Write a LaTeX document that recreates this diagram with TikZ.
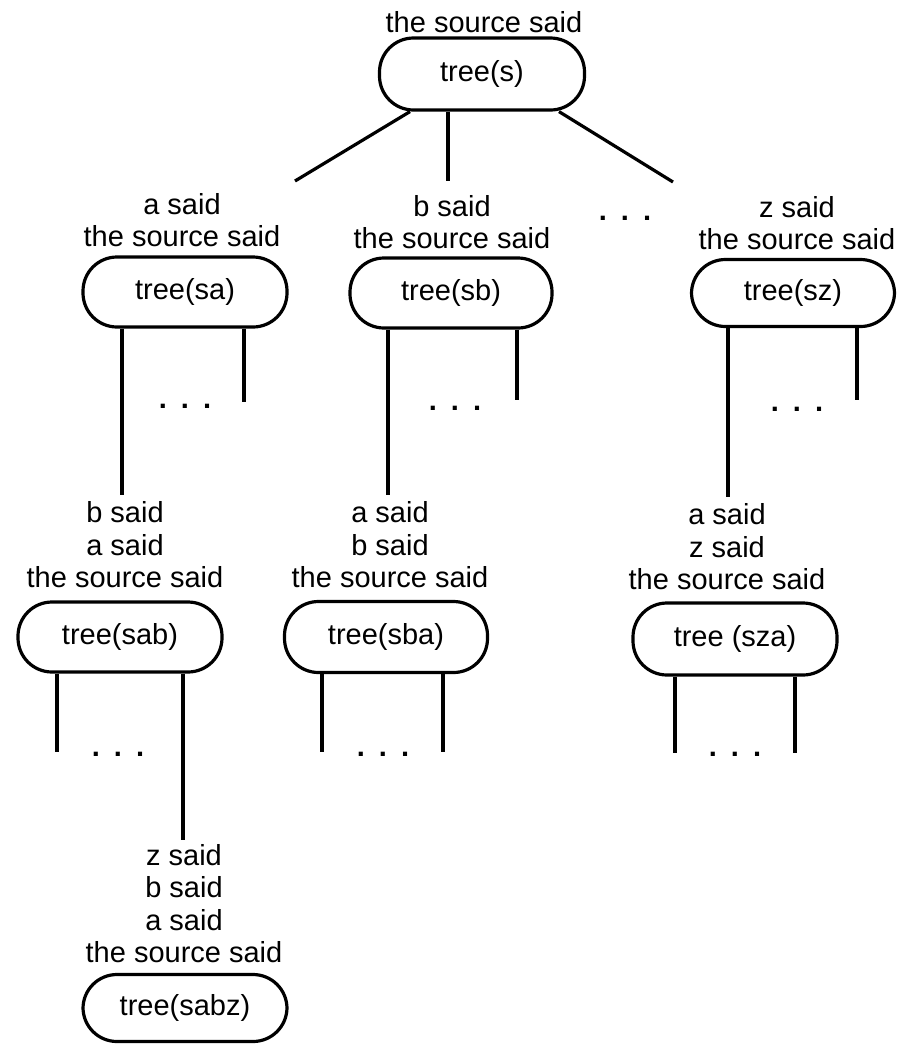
\documentclass[tikz,border=0pt]{standalone}
\usepackage{fontspec}
\setmainfont{Liberation Sans}
\newcommand\lblfont{\fontsize{29}{32.5}\selectfont}
\begin{document}
\begin{tikzpicture}[x=1pt,y=-1pt,
  treebox/.style={draw, line width=3.2pt, rounded corners=34pt,
    minimum width=204pt, minimum height=70pt, inner sep=0pt, font=\lblfont},
  lab/.style={anchor=south, inner sep=0pt, align=center, font=\lblfont},
  etc/.style={anchor=base, inner sep=0pt, font=\lblfont\bfseries},
  conn/.style={line width=3.2pt}]
\useasboundingbox (0,0) rectangle (910,1045);

% nodes
\node[treebox, minimum width=205pt, minimum height=72pt] (s) at (482,74) {tree(s)};
\node[lab] (ls) at (484,33) {the source said};

\node[treebox] (sa) at (185,292) {tree(sa)};
\node[lab] (lsa) at (182,247) {a said\\the source said};

\node[treebox, minimum width=202pt] (sb) at (451,293) {tree(sb)};
\node[lab] (lsb) at (452,249) {b said\\the source said};

\node[etc] (dtop) at (625,220.5) {.\hspace{14pt}.\hspace{14pt}.};

\node[treebox, minimum width=203pt, minimum height=67pt] (sz) at (793,293) {tree(sz)};
\node[lab] (lsz) at (797,250) {z said\\the source said};

\node[treebox] (sab) at (120,637) {tree(sab)};
\node[lab] (lsab) at (125,588) {b said\\a said\\the source said};

\node[treebox, minimum width=203pt, minimum height=71pt] (sba) at (386,637) {tree(sba)};
\node[lab] (lsba) at (390,588) {a said\\b said\\the source said};

\node[treebox, minimum height=72pt] (sza) at (735,639) {tree (sza)};
\node[lab] (lsza) at (727,590) {a said\\z said\\the source said};

\node[treebox, minimum height=67pt] (sabz) at (185,1008) {tree(sabz)};
\node[lab] (lsabz) at (184,963) {z said\\b said\\a said\\the source said};

% ellipses under nodes
\node[etc] (dsa) at (185,408) {.\hspace{14pt}.\hspace{14pt}.};
\node[etc] (dsb) at (455,410) {.\hspace{14pt}.\hspace{14pt}.};
\node[etc] (dsz) at (797,411) {.\hspace{14pt}.\hspace{14pt}.};
\node[etc] (dsab) at (118,756) {.\hspace{14pt}.\hspace{14pt}.};
\node[etc] (dsba) at (383,756) {.\hspace{14pt}.\hspace{14pt}.};
\node[etc] (dsza) at (735,756) {.\hspace{14pt}.\hspace{14pt}.};

% free ends
\coordinate (es1) at (295,181);
\coordinate (es2) at (448,181);
\coordinate (es3) at (673,182);
\coordinate (ea1) at (122,495);
\coordinate (ea2) at (244,402);
\coordinate (eb1) at (388,495);
\coordinate (eb2) at (517,400);
\coordinate (ez1) at (728,497);
\coordinate (ez2) at (857,400);
\coordinate (eab1) at (57,752);
\coordinate (eab2) at (183,840);
\coordinate (eba1) at (322,752);
\coordinate (eba2) at (443,752);
\coordinate (eza1) at (675,753);
\coordinate (eza2) at (795,753);

% connectors
\draw[conn] ([xshift=-72pt]s.south) -- (es1);
\draw[conn] (es2 |- s.south) -- (es2);
\draw[conn] ([xshift=77pt]s.south) -- (es3);
\draw[conn] (ea1 |- sa.south) -- (ea1);
\draw[conn] (ea2 |- sa.south) -- (ea2);
\draw[conn] (eb1 |- sb.south) -- (eb1);
\draw[conn] (eb2 |- sb.south) -- (eb2);
\draw[conn] (ez1 |- sz.south) -- (ez1);
\draw[conn] (ez2 |- sz.south) -- (ez2);
\draw[conn] (eab1 |- sab.south) -- (eab1);
\draw[conn] (eab2 |- sab.south) -- (eab2);
\draw[conn] (eba1 |- sba.south) -- (eba1);
\draw[conn] (eba2 |- sba.south) -- (eba2);
\draw[conn] (eza1 |- sza.south) -- (eza1);
\draw[conn] (eza2 |- sza.south) -- (eza2);
\end{tikzpicture}
\end{document}
